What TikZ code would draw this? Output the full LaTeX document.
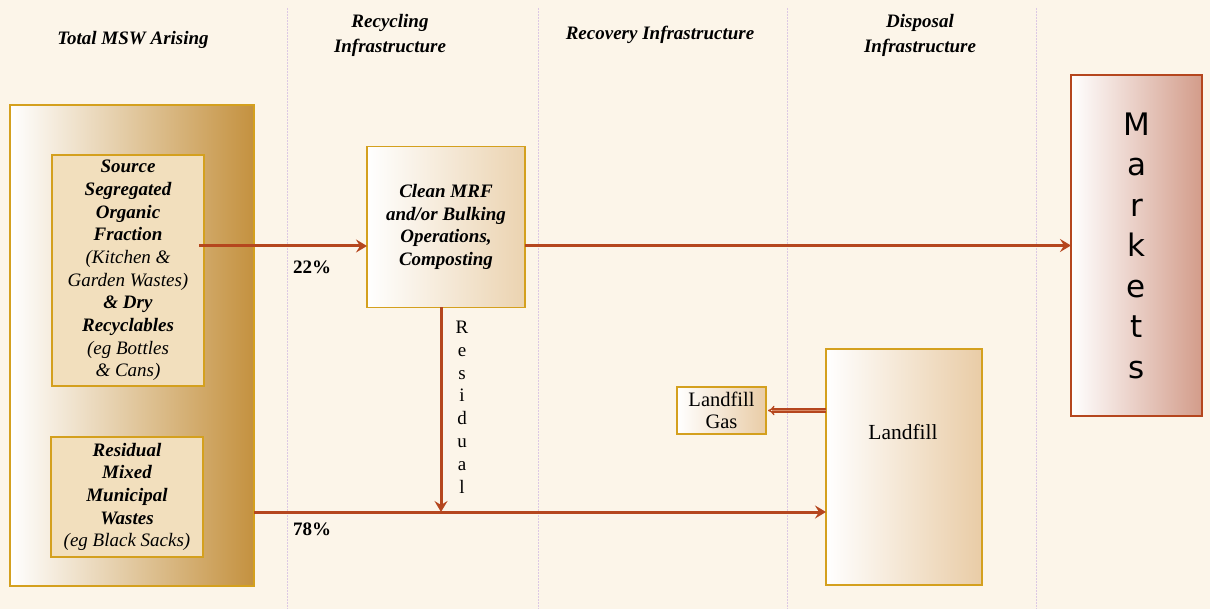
\documentclass[tikz,border=0pt]{standalone}
\usepackage{fontspec}
\setmainfont{Liberation Serif}
\newfontfamily\mkfont{DejaVu Sans}
\usetikzlibrary{arrows.meta,calc}
\definecolor{bgc}{HTML}{FCF5E9}
\definecolor{goldb}{HTML}{D4A01E}
\definecolor{flowc}{HTML}{B5461E}
\definecolor{flowl}{HTML}{D98A66}
\definecolor{sepc}{HTML}{DCC8E4}
\definecolor{innerf}{HTML}{F2DFBD}
\definecolor{bigmid}{HTML}{F0CFA0}
\definecolor{bigright}{HTML}{C4913F}
\definecolor{mrfright}{HTML}{EBD3B0}
\definecolor{mkmid}{HTML}{EDAA84}
\definecolor{mkright}{HTML}{D39C8A}
\definecolor{lfmid}{HTML}{FAE2C6}
\definecolor{lfright}{HTML}{E9CCA6}
\begin{document}
\begin{tikzpicture}[x=1pt,y=-1pt,
  boxbase/.style={draw=goldb, line width=1.6pt, inner sep=0pt, outer sep=0pt},
  bibox/.style={font=\fontsize{19}{22.7}\selectfont\bfseries\itshape, align=center},
  header/.style={font=\fontsize{19}{25}\selectfont\bfseries\itshape, align=center},
  flow/.style={draw=flowc, line width=3pt, -{Stealth[length=11pt,width=13pt,inset=4pt]}},
  sep/.style={draw=sepc, line width=1pt, dash pattern=on 2pt off 1pt},
  pct/.style={font=\fontsize{19}{20}\selectfont\bfseries}
]
\useasboundingbox (0,0) rectangle (1210,609);
\fill[bgc] (0,0) rectangle (1210,609);
% separators
\foreach \xx/\nm in {287/s1,538/s2,787/s3,1036/s4}{
  \coordinate (\nm t) at (\xx,8);
  \coordinate (\nm b) at (\xx,609);
  \draw[sep] (\nm t) -- (\nm b);
}
% headers
\node[header] (h1) at (133,40) {Total MSW Arising};
\node[header] (h2) at (390,35) {Recycling\\Infrastructure};
\node[header] (h3) at (660,35) {Recovery Infrastructure};
\node[header] (h4) at (920,35) {Disposal\\Infrastructure};
% big left box
\node[boxbase, minimum width=244pt, minimum height=481pt, left color=white, middle color=bigmid, right color=bigright] (big) at (132,345.5) {};
\node[boxbase, fill=innerf, minimum width=152pt, minimum height=231pt, bibox] (src) at (128,270.5)
 {Source\\Segregated\\Organic\\Fraction\\{\mdseries(Kitchen \&}\\{\mdseries Garden Wastes)}\\\& Dry\\Recyclables\\{\mdseries(eg Bottles}\\{\mdseries\& Cans)}};
\node[boxbase, fill=innerf, minimum width=152pt, minimum height=120pt, bibox] (res) at (127,497)
 {Residual\\Mixed\\Municipal\\Wastes\\{\mdseries(eg Black Sacks)}};
% MRF
\node[boxbase, minimum width=158pt, minimum height=161pt, left color=white, right color=mrfright, bibox] (mrf) at (446,227)
 {Clean MRF\\and/or Bulking\\Operations,\\Composting};
% Markets
\node[draw=flowc, line width=1.6pt, inner sep=0pt, outer sep=0pt, minimum width=131pt, minimum height=341pt, left color=white, middle color=mkmid, right color=mkright, align=center, font=\mkfont\fontsize{31}{40.5}\selectfont] (mk) at (1136.5,245.5)
 {M\\a\\r\\k\\e\\t\\s};
% Landfill
\node[boxbase, minimum width=156pt, minimum height=236pt, left color=white, middle color=lfmid, right color=lfright] (lf) at (904,467) {};
\node[font=\fontsize{21.5}{22}\selectfont] (lftext) at (903,432) {Landfill};
\node[boxbase, minimum width=89pt, minimum height=47pt, left color=white, right color=lfright, align=center, font=\fontsize{20.5}{22.5}\selectfont] (gas) at (721.5,410.5) {Landfill\\Gas};
% connectors
\coordinate (a1) at (199,246);
\draw[flow] (a1) -- (a1 -| mrf.west);
\node[pct] (p22) at (312,267) {22\%};
\draw[flow] (mrf.east |- mk.west) -- (mk.west);
\coordinate (j) at (441,512);
\draw[flow] (mrf.south -| j) -- (j);
\node[align=center, font=\fontsize{19}{22.8}\selectfont] (resid) at (462,407) {R\\e\\s\\i\\d\\u\\a\\l};
\draw[flow] (big.east |- j) -- (lf.west |- j);
\node[pct] (p78) at (312,529) {78\%};
\draw[draw=flowc, line width=1.3pt, double=flowl, double distance=1.8pt, -{Implies[length=10pt]}] (lf.west |- gas.east) -- ([xshift=2pt]gas.east);
\end{tikzpicture}
\end{document}
